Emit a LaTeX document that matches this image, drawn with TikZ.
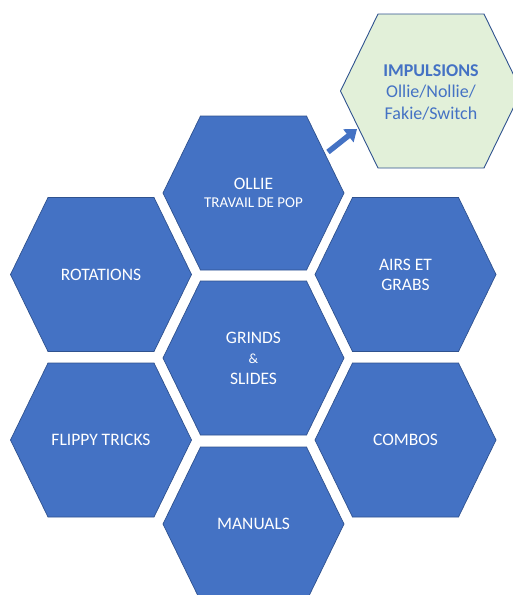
\documentclass[tikz,border=0pt]{standalone}
\usepackage{fontspec}
\setmainfont{Carlito}
\usetikzlibrary{arrows.meta}

\definecolor{cellblue}{HTML}{4472C4}
\definecolor{cellline}{HTML}{2F528F}
\definecolor{pushgreen}{HTML}{E2F0D9}

\tikzset{
	hexshape/.style={insert path={++(-90.5,0) -- ++(37.5,-77) -- ++(106,0) -- ++(37.5,77) -- ++(-37.5,77) -- ++(-106,0) -- cycle}},
	cell/.style={fill=cellblue, draw=cellline, line width=0.7pt},
	pushcell/.style={fill=pushgreen, draw=cellline, line width=0.9pt},
	celltext/.style={text=white, align=center, font=\fontsize{17.5}{20.5}\selectfont},
	pushtext/.style={text=cellblue, align=center, font=\fontsize{18}{21.5}\selectfont},
	linkarrow/.style={draw=cellblue, line width=5.5pt, -{Triangle[length=11pt,width=16pt]}},
}

\begin{document}
\begin{tikzpicture}[x=1pt, y=-1pt]% {{{ skate hexagons
	\useasboundingbox (0,0) rectangle (513,595);
	\clip (0,0) rectangle (513,595);

	% target cell
	\draw[pushcell] (431,91) [hexshape];
	\node[pushtext] (impulsions) at (431,92) {\textbf{IMPULSIONS}\\Ollie/Nollie/\\Fakie/Switch};

	% blue cells
	\draw[cell] (253.5,193) [hexshape];
	\node[celltext] (ollie) at (253.5,193) {OLLIE\\[-2pt]{\fontsize{15}{18}\selectfont TRAVAIL DE POP}};

	\draw[cell] (101,274.5) [hexshape];
	\node[celltext] (rotations) at (101,274.5) {ROTATIONS};

	\draw[cell] (405.5,274.5) [hexshape];
	\node[celltext] (airs) at (405.5,275) {AIRS ET\\GRABS};

	\draw[cell] (253.5,358) [hexshape];
	\node[celltext] (grinds) at (253.5,358) {GRINDS\\{\fontsize{14}{20}\selectfont\&}\\SLIDES};

	\draw[cell] (101,440) [hexshape];
	\node[celltext] (flippy) at (101,440) {FLIPPY TRICKS};

	\draw[cell] (405.5,440) [hexshape];
	\node[celltext] (combos) at (405.5,440) {COMBOS};

	\draw[cell] (253.5,524) [hexshape];
	\node[celltext] (manuals) at (253.5,524) {MANUALS};

	% link ollie -> impulsions
	\coordinate (linkfrom) at (328,152);
	\coordinate (linkto) at (357,129);
	\draw[linkarrow] (linkfrom) -- (linkto);
\end{tikzpicture}% }}}
\end{document}
